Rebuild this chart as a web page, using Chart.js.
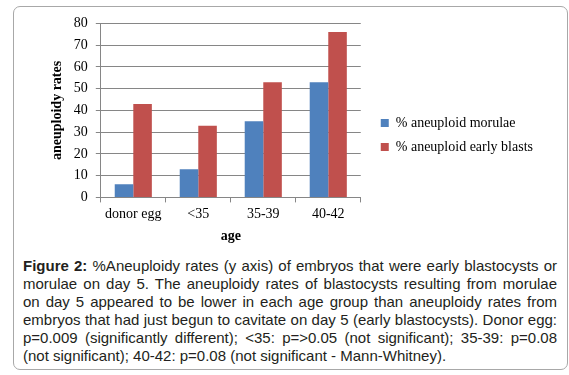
<!DOCTYPE html>
<html>
<head>
<meta charset="utf-8">
<script src="https://cdn.jsdelivr.net/npm/chart.js@4"></script>
<style>
  body { margin: 0; width: 569px; height: 375px; background: #fff; position: relative; overflow: hidden; }
  #box { position: absolute; left: 13px; top: 6px; width: 555px; height: 364px; border: 1px solid #a8a8a8; border-radius: 7px; box-sizing: border-box; }
  #wrap { position: absolute; left: 14px; top: 7px; width: 552px; height: 240px; }
  #cap { position: absolute; left: 23px; top: 257px; width: 534px; font: 15px "Liberation Sans", Arial, sans-serif; color: #231f20; line-height: 18px; }
  #cap div { text-align: justify; text-align-last: justify; }
  #cap div.last { text-align-last: left; }
</style>
</head>
<body>
<div id="box"></div>
<div id="wrap"><canvas id="chart" width="552" height="240"></canvas></div>
<div id="cap">
  <div><b>Figure 2:</b> %Aneuploidy rates (y axis) of embryos that were early blastocysts or</div>
  <div>morulae on day 5. The aneuploidy rates of blastocysts resulting from morulae</div>
  <div>on day 5 appeared to be lower in each age group than aneuploidy rates from</div>
  <div>embryos that had just begun to cavitate on day 5 (early blastocysts). Donor egg:</div>
  <div>p=0.009 (significantly different); &lt;35: p=&gt;0.05 (not significant); 35-39: p=0.08</div>
  <div class="last">(not significant); 40-42: p=0.08 (not significant - Mann-Whitney).</div>
</div>
<script>
// age groups and % aneuploid per embryo stage
const categories = ['donor egg', '<35', '35-39', '40-42'];
const morulae = [6, 13, 35, 53];
const earlyBlasts = [43, 33, 53, 76];
const yMin = 0, yMax = 80, yStep = 10;

const serif = '"Liberation Serif", "Times New Roman", serif';
const lineCol = '#868686';

new Chart(document.getElementById('chart'), {
  type: 'bar',
  data: {
    labels: categories,
    datasets: [
      { label: '% aneuploid morulae', data: morulae, backgroundColor: '#4F81BD' },
      { label: '% aneuploid early blasts', data: earlyBlasts, backgroundColor: '#C0504D' },
    ],
  },
  options: {
    responsive: false,
    animation: false,
    categoryPercentage: 0.571,
    barPercentage: 1,
    layout: { padding: { left: 35, top: 16, right: 23, bottom: 0 } },
    plugins: {
      tooltip: { enabled: false },
      legend: {
        position: 'right',
        maxWidth: 220,
        labels: { boxWidth: 8, boxHeight: 8, padding: 10, color: '#000', font: { family: serif, size: 14 } },
      },
    },
    scales: {
      x: {
        grid: { drawOnChartArea: false, drawTicks: true, tickLength: 5, color: lineCol, offset: true },
        border: { color: lineCol },
        ticks: { color: '#000', padding: 4, font: { family: serif, size: 14 } },
        title: { display: true, text: 'age', color: '#000', padding: { top: 1, bottom: 2 },
                 font: { family: serif, size: 14, weight: 'bold' } },
      },
      y: {
        min: yMin, max: yMax,
        grid: { color: lineCol, tickLength: 5 },
        border: { color: lineCol },
        ticks: { stepSize: yStep, color: '#000', padding: 8, font: { family: serif, size: 14 } },
        title: { display: true, text: 'aneuploidy rates', color: '#000', padding: { top: 0, bottom: 0 },
                 font: { family: serif, size: 14, weight: 'bold' } },
      },
      // empty spacer between plot and legend
      y2: {
        position: 'right',
        grid: { display: false },
        border: { display: false },
        ticks: { display: false },
        afterFit(s) { s.width = 10; },
      },
    },
  },
});
</script>
</body>
</html>
